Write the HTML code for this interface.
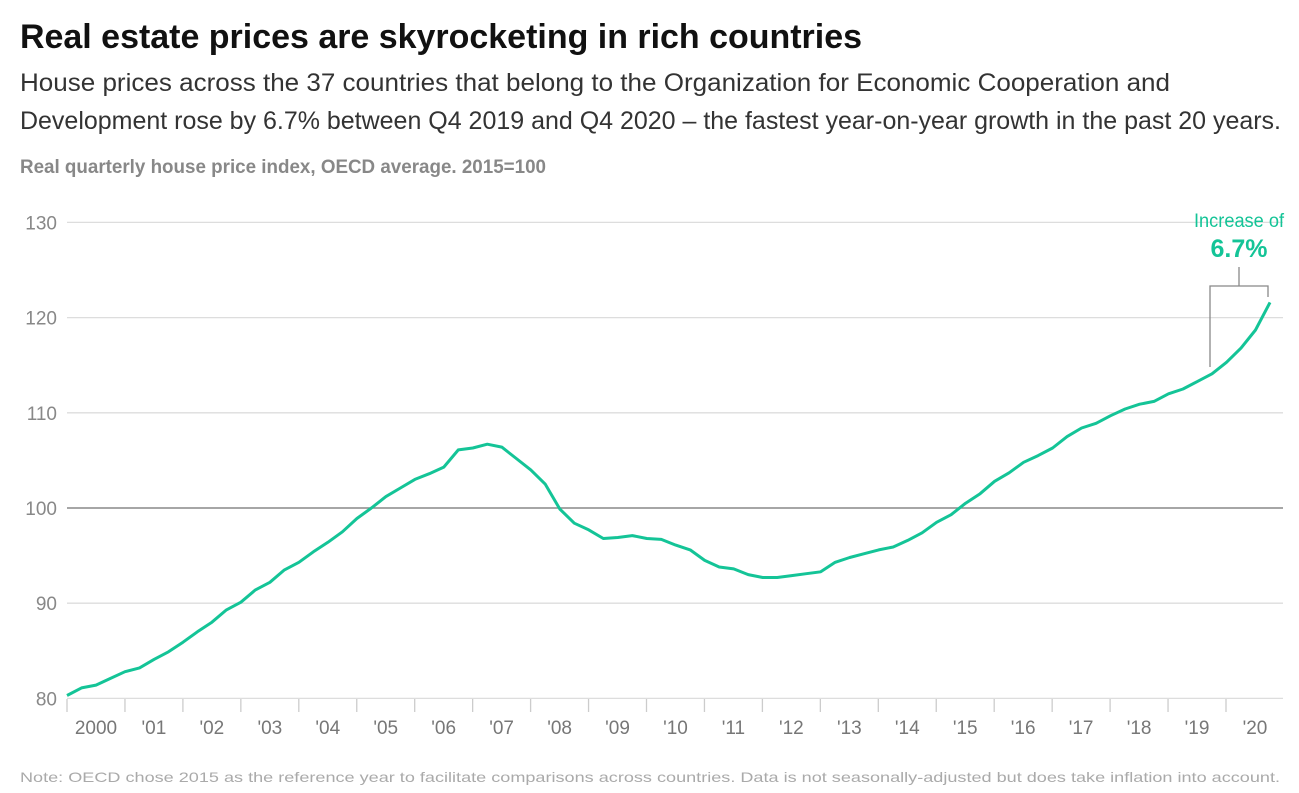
<!DOCTYPE html>
<html><head><meta charset="utf-8"><style>
html,body{margin:0;padding:0;background:#fff;}
svg{display:block;font-family:"Liberation Sans",sans-serif;}
</style></head><body>
<svg id="chart" width="1299" height="793" viewBox="0 0 1299 793">
<text x="20" y="48" font-size="34" font-weight="bold" fill="#111" textLength="842" lengthAdjust="spacingAndGlyphs">Real estate prices are skyrocketing in rich countries</text>
<text x="20" y="91" font-size="25" fill="#333" textLength="1150" lengthAdjust="spacingAndGlyphs">House prices across the 37 countries that belong to the Organization for Economic Cooperation and</text>
<text x="20" y="129" font-size="25" fill="#333" textLength="1261" lengthAdjust="spacingAndGlyphs">Development rose by 6.7% between Q4 2019 and Q4 2020 – the fastest year-on-year growth in the past 20 years.</text>
<text x="20" y="173" font-size="19" font-weight="bold" fill="#888" textLength="526" lengthAdjust="spacingAndGlyphs">Real quarterly house price index, OECD average. 2015=100</text>
<g id="grid"></g>
<g id="xaxis"></g>
<path id="line" fill="none" stroke="#14c497" stroke-width="3" stroke-linejoin="round"></path>
<g>
<path d="M1210,367 V286 H1268 V297 M1239,286 V267" fill="none" stroke="#888" stroke-width="1.3"></path>
<text x="1239" y="227" font-size="19" fill="#14c497" text-anchor="middle" textLength="90" lengthAdjust="spacingAndGlyphs">Increase of</text>
<text x="1239" y="257" font-size="25" font-weight="bold" fill="#14c497" text-anchor="middle">6.7%</text>
</g>
<text x="20" y="782" font-size="14" fill="#aaa" textLength="1260" lengthAdjust="spacingAndGlyphs">Note: OECD chose 2015 as the reference year to facilitate comparisons across countries. Data is not seasonally-adjusted but does take inflation into account.</text>
</svg>
<script>
const yTicks = [80, 90, 100, 110, 120, 130];
const yearLabels = ["2000","'01","'02","'03","'04","'05","'06","'07","'08","'09","'10","'11","'12","'13","'14","'15","'16","'17","'18","'19","'20"];
const values = [80.3,81.1,81.4,82.1,82.8,83.2,84.1,84.9,85.9,87.0,88.0,89.3,90.1,91.4,92.2,93.5,94.3,95.4,96.4,97.5,98.9,100.0,101.2,102.1,103.0,103.6,104.3,106.1,106.3,106.7,106.4,105.2,104.0,102.5,99.9,98.4,97.7,96.8,96.9,97.1,96.8,96.7,96.1,95.6,94.5,93.8,93.6,93.0,92.7,92.7,92.9,93.1,93.3,94.3,94.8,95.2,95.6,95.9,96.6,97.4,98.5,99.3,100.5,101.5,102.8,103.7,104.8,105.5,106.3,107.5,108.4,108.9,109.7,110.4,110.9,111.2,112.0,112.5,113.3,114.1,115.3,116.8,118.7,121.6];
const NS="http://www.w3.org/2000/svg";
const x0=67,x1=1270,yearW=57.95;
function xQ(i){return x0+i*(x1-x0)/(values.length-1);}
function yV(v){return 508-(v-100)*9.52;}
const grid=document.getElementById('grid');
yTicks.forEach(t=>{
  const l=document.createElementNS(NS,'line');
  
  
  l.setAttribute('x1',67);l.setAttribute('x2',1283);
  l.setAttribute('y1',yV(t));l.setAttribute('y2',yV(t));
  l.setAttribute('stroke',t===100?'#888':'#ddd');l.setAttribute('stroke-width',t===100?1.5:1.3);
  grid.appendChild(l);
  const tx=document.createElementNS(NS,'text');
  
  
  tx.setAttribute('x',57);tx.setAttribute('y',yV(t)+7);
  tx.setAttribute('text-anchor','end');tx.setAttribute('font-size','19');tx.setAttribute('fill','#888');
  tx.textContent=t;grid.appendChild(tx);
});
const xa=document.getElementById('xaxis');
yearLabels.forEach((lab,k)=>{
  const tx0=x0+k*yearW;
  const tk=document.createElementNS(NS,'line');
  
  
  tk.setAttribute('x1',tx0);tk.setAttribute('x2',tx0);tk.setAttribute('y1',699);tk.setAttribute('y2',712);
  tk.setAttribute('stroke','#ccc');tk.setAttribute('stroke-width',1.3);xa.appendChild(tk);
  const t=document.createElementNS(NS,'text');
  
  
  t.setAttribute('x',tx0+yearW/2);t.setAttribute('y',734);t.setAttribute('text-anchor','middle');
  t.setAttribute('font-size','19');t.setAttribute('fill','#777');
  t.textContent=lab;xa.appendChild(t);
});
document.getElementById('line').setAttribute('d',values.map((v,i)=>(i?'L':'M')+xQ(i).toFixed(1)+','+yV(v).toFixed(1)).join(''));
</script>
</body></html>
